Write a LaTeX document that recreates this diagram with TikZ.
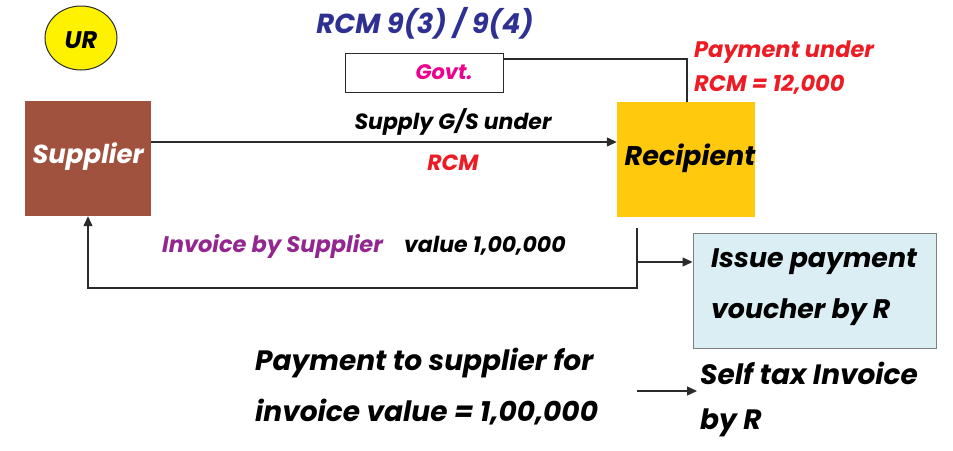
\documentclass[tikz,border=0pt]{standalone}
\usepackage{fontspec}
\setmainfont{Poppins}
\usetikzlibrary{arrows.meta,shapes.geometric}
\definecolor{navy}{HTML}{2E3192}
\definecolor{magentatx}{HTML}{EC008C}
\definecolor{redtx}{HTML}{ED1C24}
\definecolor{purpletx}{HTML}{92278F}
\definecolor{brick}{HTML}{A0523F}
\definecolor{gold}{HTML}{FFC90E}
\definecolor{paleblue}{HTML}{DAEEF3}
\definecolor{urfill}{HTML}{FFF200}
\definecolor{linec}{HTML}{2B2B2B}
\tikzset{
  hand/.style={font=\fontsize{#1}{#1}\selectfont\bfseries\itshape, inner sep=0pt},
  hand/.default=24,
  conn/.style={draw=linec, line width=1.3pt},
  tip/.style={-{Triangle[length=10pt,width=9pt]}},
}
\begin{document}
\begin{tikzpicture}[x=1pt,y=-1pt]
\useasboundingbox[fill=white] (0,0) rectangle (953,450);

% UR badge
\node[draw=linec, line width=1pt, fill=urfill, ellipse, minimum width=72pt, minimum height=64pt, inner sep=0pt] (ur) at (81,38) {};
\node[hand=24] (urt) at (81,40) {UR};

% heading
\node[hand=27.5, text=navy] (rcmhead) at (425,23) {RCM 9(3) / 9(4)};

% main parties
\node[fill=brick, minimum width=126pt, minimum height=115pt, inner sep=0pt] (sup) at (88,158.5) {};
\node[hand=26, text=white] (supt) at (88,157) {Supplier};
\node[fill=gold, minimum width=138pt, minimum height=115pt, inner sep=0pt] (rec) at (686,159.5) {};
\node[hand=27] (rect) at (690,158) {Recipient};

% government box
\node[draw=linec, line width=1pt, minimum width=158pt, minimum height=39pt, inner sep=0pt] (govt) at (424,72.5) {};
\node[hand=21, text=magentatx] (govtt) at (444,72) {Govt.};

% payment under RCM to government
\coordinate (rectop) at (687,102);
\draw[conn] (rectop) |- (govt.east |- 0,59);
\node[hand=22.5, text=redtx, anchor=west] (payrcm) at (694,52) {Payment under};
\node[hand=22.5, text=redtx, anchor=west] (payrcm2) at (694,85) {RCM = 12,000};

% supply arrow
\draw[conn, tip] (sup.east |- 0,142) -- (rec.west |- 0,142);
\node[hand=22] (supplyt) at (453,122) {Supply G/S under};
\node[hand=22, text=redtx] (rcmt) at (453,163) {RCM};

% invoice loop back to supplier
\coordinate (drop) at (637,228);
\coordinate (corner) at (637,288);
\coordinate (branch) at (637,262);
\draw[conn, tip] (drop) -- (corner) -| (sup.south);
\node[hand=22.5, text=purpletx, anchor=west] (invt) at (162,246) {Invoice by Supplier};
\node[hand=22, anchor=west] (valt) at (404,246) {value 1,00,000};

% payment voucher
\node[draw=gray, line width=1pt, fill=paleblue, minimum width=243pt, minimum height=115pt, inner sep=0pt] (vou) at (814.5,290.5) {};
\draw[conn, tip] (branch) -- (vou.west |- branch);
\node[hand=26.8, anchor=west] (vout1) at (711,262) {Issue payment};
\node[hand=26.8, anchor=west] (vout2) at (711,312) {voucher by R};

% payment to supplier and self invoice
\node[hand=28, anchor=west] (payt1) at (255,363) {Payment to supplier for};
\node[hand=28, anchor=west] (payt2) at (255,412) {invoice value = 1,00,000};
\coordinate (selfstart) at (637,391);
\coordinate (selfend) at (697,391);
\node[hand=28, anchor=west] (self1) at (700,373) {Self tax Invoice};
\node[hand=28, anchor=west] (self2) at (700,423) {by R};
\draw[conn, tip] (selfstart) -- (selfend);
\end{tikzpicture}
\end{document}
